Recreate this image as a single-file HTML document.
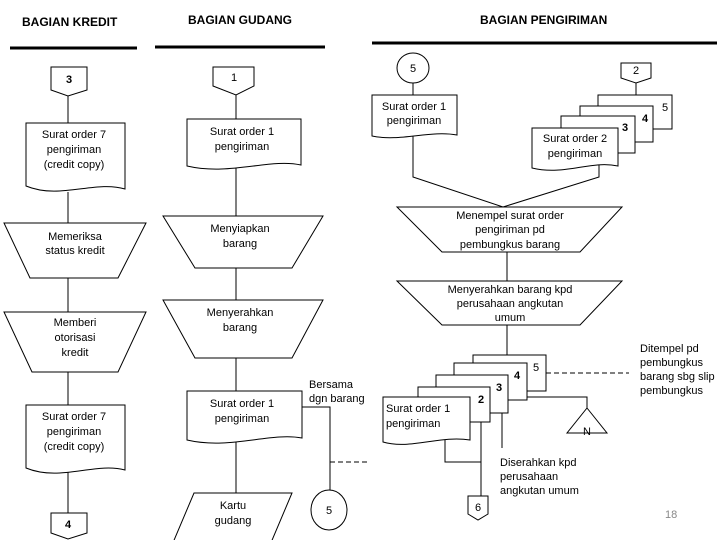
<!DOCTYPE html>
<html><head><meta charset="utf-8"><style>
body{margin:0;background:#fff}
svg text{font-family:"Liberation Sans",sans-serif;font-size:11px;fill:#000}
.h{font-weight:bold;font-size:12px}
</style></head><body>
<svg width="720" height="540" viewBox="0 0 720 540" xmlns="http://www.w3.org/2000/svg">
<defs></defs>
<g stroke="#000" stroke-width="3"><line x1="10" y1="48" x2="137" y2="48"/><line x1="155" y1="47" x2="325" y2="47"/><line x1="372" y1="43" x2="717" y2="43"/></g>
<text class="h" x="22" y="26">BAGIAN KREDIT</text>
<text class="h" x="188" y="24">BAGIAN GUDANG</text>
<text class="h" x="480" y="24">BAGIAN PENGIRIMAN</text>
<g fill="#fff" stroke="#000" stroke-width="1">
<!-- left column -->
<line x1="68" y1="96" x2="68" y2="123"/><line x1="68" y1="192" x2="68" y2="223"/><line x1="68" y1="278" x2="68" y2="312"/><line x1="68" y1="372" x2="68" y2="405"/><line x1="68" y1="472" x2="68" y2="513"/>
<path d="M51 67H87V90L68 96L51 90Z"/>
<path d="M26 123H125V189C95 180 60 200 26 186Z"/>
<path d="M4 223H146L118 278H30Z"/>
<path d="M4 312H146L118 372H32Z"/>
<path d="M26 405H125V470C95 462 60 482 26 468Z"/>
<path d="M51 513H87V533L68 539L51 533Z"/>
<!-- middle -->
<line x1="236" y1="95" x2="236" y2="119"/><line x1="236" y1="166" x2="236" y2="216"/><line x1="236" y1="268" x2="236" y2="300"/><line x1="236" y1="358" x2="236" y2="391"/><line x1="236" y1="440" x2="236" y2="493"/>
<path d="M213 67H254V86L236 95L213 86Z"/>
<path d="M187 119H301V165C270 158 230 176 187 166Z"/>
<path d="M163 216H323L292 268H195Z"/>
<path d="M163 300H323L292 358H195Z"/>
<path d="M187 391H302V438C270 432 230 450 187 440Z"/>
<path d="M194 493H292L270 545H172Z"/>
<path d="M302 407H330V490" fill="none"/>
<line x1="330" y1="462" x2="368" y2="462" stroke-dasharray="5,3"/>
<ellipse cx="329" cy="510" rx="18" ry="20"/>
<!-- right top -->
<ellipse cx="413" cy="68" rx="16" ry="15"/>
<line x1="413" y1="83" x2="413" y2="95"/>
<path d="M413 134V177L503 207L599 177V165" fill="none"/>
<path d="M372 95H457V135C430 130 400 142 372 136Z"/>
<path d="M621 63H651V78L636 83L621 78Z"/>
<line x1="636" y1="83" x2="636" y2="95"/>
<path d="M598 95H672V129H598Z"/>
<path d="M580 106H653V142H580Z"/>
<path d="M561 116H635V153H561Z"/>
<path d="M532 128H618V166C590 160 565 176 532 168Z"/>
<path d="M397 207H622L580 252H442Z"/>
<line x1="507" y1="252" x2="507" y2="281"/>
<path d="M397 281H622L580 325H442Z"/>
<line x1="507" y1="325" x2="507" y2="355"/>
<!-- bottom stack -->
<path d="M527 392V397H587V408" fill="none"/>
<path d="M587 408L607 433H567Z"/>
<line x1="546" y1="373" x2="629" y2="373" stroke-dasharray="5,3"/>
<path d="M473 355H546V391H473Z"/>
<path d="M454 363H527V400H454Z"/>
<path d="M436 375H508V413H436Z"/>
<line x1="502" y1="413" x2="502" y2="448"/>
<path d="M418 387H490V422H418Z"/>
<path d="M445 440V462H481" fill="none"/>
<line x1="481" y1="422" x2="481" y2="496"/>
<path d="M383 397H470V440C440 435 410 450 383 442Z"/>
<path d="M468 496H488V514L478 520L468 514Z"/>
</g>
<g text-anchor="middle">
<text x="69" y="83" font-weight="bold">3</text>
<text x="74" y="138">Surat order 7</text><text x="74" y="153">pengiriman</text><text x="74" y="168">(credit copy)</text>
<text x="75" y="240">Memeriksa</text><text x="75" y="254">status kredit</text>
<text x="75" y="326">Memberi</text><text x="75" y="341">otorisasi</text><text x="75" y="356">kredit</text>
<text x="74" y="420">Surat order 7</text><text x="74" y="435">pengiriman</text><text x="74" y="450">(credit copy)</text>
<text x="68" y="528" font-weight="bold">4</text>
<text x="234" y="81">1</text>
<text x="242" y="135">Surat order 1</text><text x="242" y="150">pengiriman</text>
<text x="240" y="232">Menyiapkan</text><text x="240" y="247">barang</text>
<text x="240" y="316">Menyerahkan</text><text x="240" y="331">barang</text>
<text x="242" y="407">Surat order 1</text><text x="242" y="422">pengiriman</text>
<text x="233" y="509">Kartu</text><text x="233" y="524">gudang</text>
<text x="329" y="514">5</text>
<text x="413" y="72">5</text>
<text x="414" y="110">Surat order 1</text><text x="414" y="124">pengiriman</text>
<text x="636" y="74">2</text>
<text x="575" y="142">Surat order 2</text><text x="575" y="157">pengiriman</text>
<text x="510" y="219">Menempel surat order</text><text x="510" y="233">pengiriman pd</text><text x="510" y="248">pembungkus barang</text>
<text x="510" y="293">Menyerahkan barang kpd</text><text x="510" y="307">perusahaan angkutan</text><text x="510" y="321">umum</text>
<text x="587" y="435">N</text>
<text x="478" y="511">6</text>
</g>
<text x="662" y="111">5</text><text x="642" y="122" font-weight="bold">4</text><text x="622" y="131" font-weight="bold">3</text>
<text x="533" y="371">5</text><text x="514" y="379" font-weight="bold">4</text><text x="496" y="391" font-weight="bold">3</text><text x="478" y="403" font-weight="bold">2</text>
<text x="386" y="412">Surat order 1</text><text x="386" y="427">pengiriman</text>
<text x="309" y="388">Bersama</text><text x="309" y="402">dgn barang</text>
<text x="640" y="352">Ditempel pd</text><text x="640" y="366">pembungkus</text><text x="640" y="380">barang sbg slip</text><text x="640" y="394">pembungkus</text>
<text x="500" y="466">Diserahkan kpd</text><text x="500" y="480">perusahaan</text><text x="500" y="494">angkutan umum</text>
<text x="665" y="518" style="fill:#888">18</text>
</svg>
</body></html>
